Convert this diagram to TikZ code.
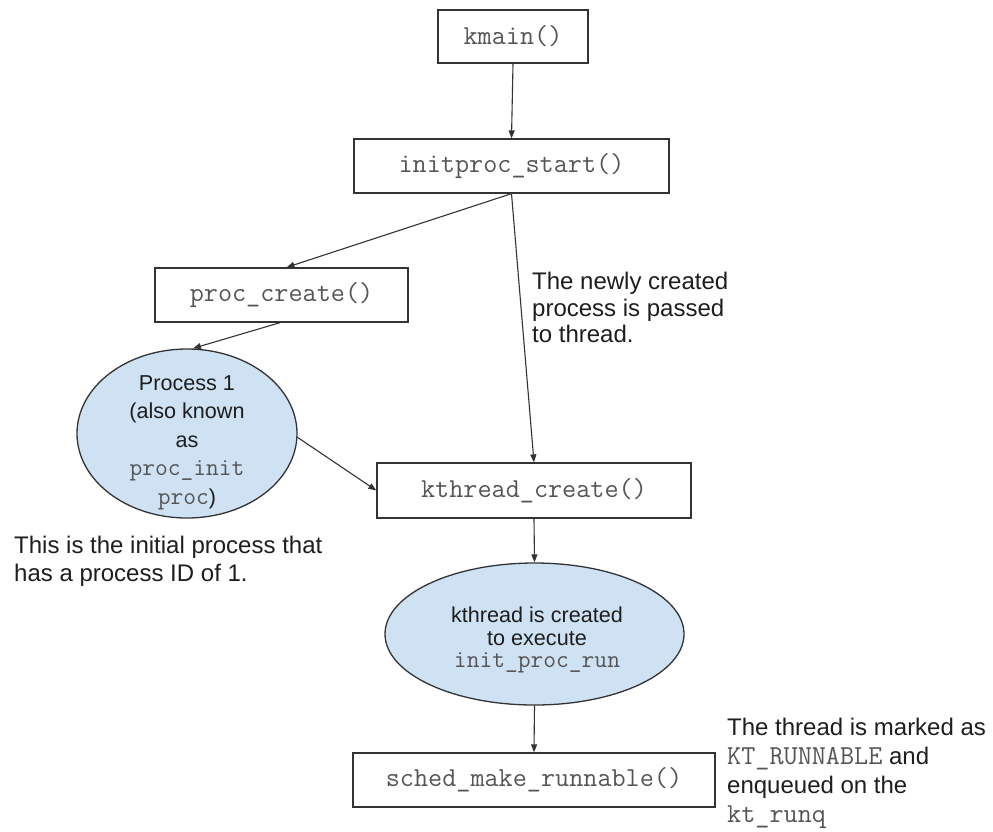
\documentclass[tikz,border=0pt]{standalone}
\usepackage{fontspec}
\setmainfont{Liberation Sans}
\usetikzlibrary{shapes.geometric,arrows.meta}
\definecolor{txt}{HTML}{1E1E1E}
\definecolor{code}{HTML}{555555}
\definecolor{ovalfill}{HTML}{CFE2F3}
\definecolor{edge}{HTML}{333333}
\newcommand\codebig[1]{{\ttfamily\fontsize{27.4}{30}\selectfont\color{code}#1}}
\newcommand\codesmall[1]{{\ttfamily\fontsize{24.8}{28}\selectfont\color{code}#1}}
\begin{document}
\begin{tikzpicture}[x=1pt,y=-1pt,
  fnbox/.style={draw=edge,line width=1.3pt,inner sep=0pt,text=code,
    font={\ttfamily\fontsize{27.4}{30}\selectfont}},
  oval/.style={ellipse,draw=edge,line width=1.3pt,fill=ovalfill,inner sep=0pt},
  note/.style={inner sep=0pt,text=txt},
  arr/.style={draw=edge,line width=1.1pt,-{Triangle[length=8pt,width=6pt]}}]
\fill[white] (0,0) rectangle (993,831);
\useasboundingbox (0,0) rectangle (993,831);
% boxes
\node[fnbox,minimum width=150pt,minimum height=53pt] (km) at (513,36.5) {kmain()};
\node[fnbox,minimum width=315pt,minimum height=54pt] (ips) at (511.5,166) {initproc\_start()};
\node[fnbox,minimum width=253pt,minimum height=54pt] (pc) at (281.5,295) {proc\_create()};
\node[fnbox,minimum width=314pt,minimum height=55pt] (kc) at (534,490.5) {kthread\_create()};
\node[fnbox,minimum width=362pt,minimum height=54pt] (sm) at (534,780) {sched\_make\_runnable()};
% ovals
\node[oval,minimum width=220pt,minimum height=169pt] (p1) at (187,433.5) {};
\node[oval,minimum width=299pt,minimum height=142pt] (ke) at (534.5,634) {};
% oval texts
\node[note,anchor=north,align=center,font={\fontsize{21.6}{28.5}\selectfont}] (p1t) at (187,375)
  {Process 1\\(also known\\as\\\codesmall{proc\_init}\\\codesmall{proc})};
\node[note,anchor=north,align=center,font={\fontsize{21.6}{22.5}\selectfont}] (ket) at (537,607)
  {kthread is created\\to execute\\\codesmall{init\_proc\_run}};
% notes
\node[note,anchor=north west,align=left,font={\fontsize{24}{26.5}\selectfont}] (n1) at (532,272)
  {The newly created\\process is passed\\to thread.};
\node[note,anchor=north west,align=left,font={\fontsize{24}{28}\selectfont}] (n2) at (14,536)
  {This is the initial process that\\has a process ID of 1.};
\node[note,anchor=north west,align=left,font={\fontsize{24}{29}\selectfont}] (n3) at (727,718)
  {The thread is marked as\\\codebig{KT\_RUNNABLE} and\\enqueued on the\\\codebig{kt\_runq}};
% arrows
\draw[arr] (km.south) -- (ips.north);
\draw[arr] (ips.south) -- ([xshift=5pt]pc.north);
\draw[arr] (ips.south) -- (kc.north);
\draw[arr] ([xshift=-1.5pt]pc.south) -- ([xshift=6pt]p1.north);
\draw[arr] (p1.-2) -- (kc.west);
\draw[arr] (kc.south) -- (ke.north);
\draw[arr] (ke.south) -- (sm.north);
\end{tikzpicture}
\end{document}
